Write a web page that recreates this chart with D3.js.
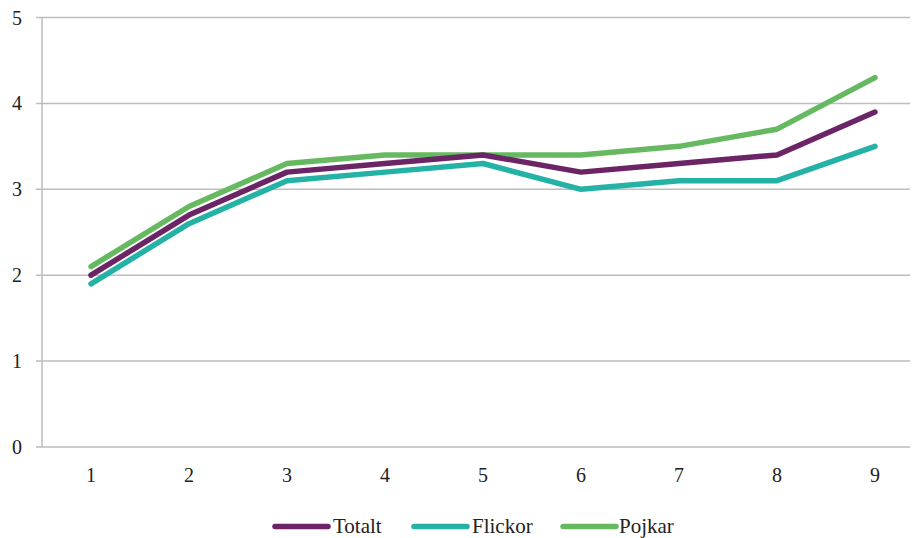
<!DOCTYPE html>
<html><head><meta charset="utf-8">
<script src="https://cdn.jsdelivr.net/npm/d3@7"></script>
<style>body{margin:0;background:#fff}svg{display:block}</style>
</head><body><svg id="c" width="912" height="538"></svg>
<script>
const categories = ["1","2","3","4","5","6","7","8","9"];
const totalt  = [2.0, 2.7, 3.2, 3.3, 3.4, 3.2, 3.3, 3.4, 3.9];
const flickor = [1.9, 2.6, 3.1, 3.2, 3.3, 3.0, 3.1, 3.1, 3.5];
const pojkar  = [2.1, 2.8, 3.3, 3.4, 3.4, 3.4, 3.5, 3.7, 4.3];
const yTicks = [0,1,2,3,4,5];
const seriesNames = ["Totalt","Flickor","Pojkar"];
const colors = ["#6b2466","#25b2a6","#67b961"];

(function(){
const FONT = "Liberation Serif, Tinos, Times New Roman, Times, DejaVu Serif, serif";
const series = [totalt, flickor, pojkar];
const svg = d3.select("#c");
const mLeft = 42, mRight = 924, mTop = 17.5, mBottom = 447;
const x = d3.scaleBand().domain(categories).range([mLeft, mRight]);
const y = d3.scaleLinear().domain([0,5]).range([mBottom, mTop]);

svg.append("g").selectAll("line").data(yTicks).join("line")
  .attr("x1", mLeft-6).attr("x2", 910)
  .attr("y1", d=>y(d)).attr("y2", d=>y(d))
  .attr("stroke", "#bdbdbd").attr("stroke-width", 1.5);
svg.append("line").attr("x1", mLeft).attr("x2", mLeft).attr("y1", mTop).attr("y2", mBottom)
  .attr("stroke", "#bdbdbd").attr("stroke-width", 1.5);

svg.append("g").selectAll("text").data(yTicks).join("text")
  .attr("x", 22).attr("y", d=>y(d)+7).attr("text-anchor","end")
  .attr("font-family", FONT).attr("fill", "#222")
  .attr("font-size", 20).text(d=>d);
svg.append("g").selectAll("text").data(categories).join("text")
  .attr("x", d=>x(d)+x.bandwidth()/2).attr("y", 482).attr("text-anchor","middle")
  .attr("font-family", FONT).attr("fill", "#222")
  .attr("font-size", 20).text(d=>d);

const line = d3.line().x((d,i)=>x(categories[i])+x.bandwidth()/2).y(d=>y(d));
[2,1,0].forEach(k=>{
  svg.append("path").attr("d", line(series[k])).attr("fill","none")
    .attr("stroke", colors[k]).attr("stroke-width", 5.5)
    .attr("stroke-linecap","round").attr("stroke-linejoin","round");
});

const legX = [275, 414, 563];
const legT = [333, 472, 619];
const lg = svg.append("g");
seriesNames.forEach((n,i)=>{
  lg.append("line").attr("x1", legX[i]).attr("x2", legX[i]+53).attr("y1", 526.5).attr("y2", 526.5)
    .attr("stroke", colors[i]).attr("stroke-width", 5.5).attr("stroke-linecap","round");
  lg.append("text").attr("x", legT[i]).attr("y", 533).attr("font-size", 21)
    .attr("font-family", FONT).attr("fill", "#222").text(n);
});
})();
</script></body></html>
